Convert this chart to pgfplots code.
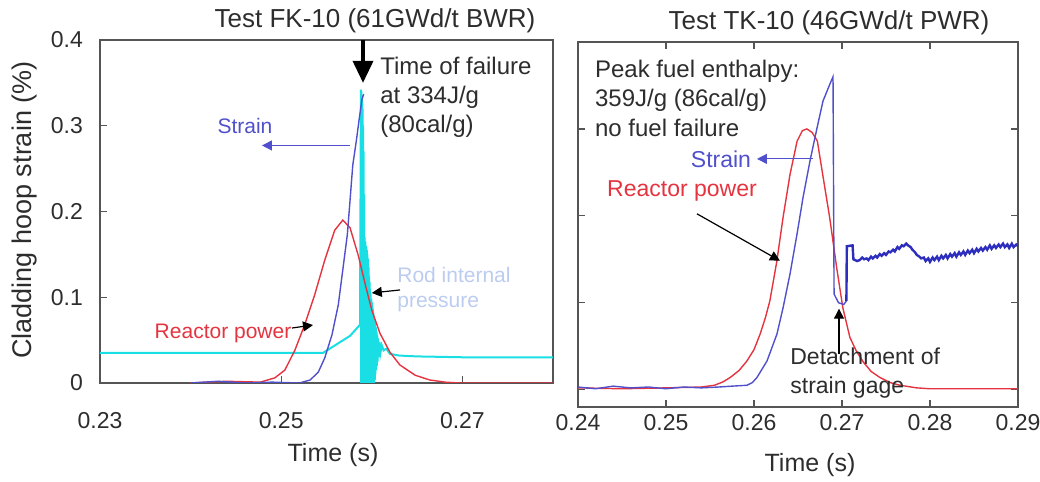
\documentclass[border=0pt]{standalone}
\usepackage{fontspec}
\setmainfont{Liberation Sans}
\usepackage{pgfplots}
\pgfplotsset{compat=1.18}
\usetikzlibrary{arrows.meta}

\definecolor{pwr}{RGB}{228,52,64}
\definecolor{strn}{RGB}{80,80,205}
\definecolor{strndark}{RGB}{45,45,190}
\definecolor{rodp}{RGB}{25,222,228}
\definecolor{palet}{RGB}{188,204,240}
\definecolor{txt}{RGB}{45,45,45}
\definecolor{frame}{RGB}{85,85,85}

\pgfplotsset{
  panel/.style={
    scale only axis,
    axis line style={frame, line width=0.6pt},
    tick style={frame, line width=0.6pt},
    major tick length=3.5pt,
    tick align=inside,
    ticklabel style={font=\fontsize{11.5}{12}\selectfont, text=txt},
    /pgf/number format/assume math mode=true,
  },
}
\tikzset{ann/.style={-{Triangle[length=5pt,width=5pt]}, line width=0.6pt}}

\begin{document}
\begin{tikzpicture}
\useasboundingbox (0,0) rectangle (520pt,241pt);

% left panel: FK-10
\begin{axis}[panel,
  at={(50pt,49.5pt)}, anchor=south west,
  width=226.5pt, height=171.5pt,
  xmin=0.23, xmax=0.28, ymin=0, ymax=0.4,
  xtick={0.23,0.25,0.27}, xticklabels={0.23,0.25,0.27},
  ytick={0,0.1,0.2,0.3,0.4}, yticklabels={0,0.1,0.2,0.3,0.4},
  xtick pos=bottom, ytick pos=left,
  xticklabel style={yshift=-11pt},
  yticklabel style={xshift=-5pt},
]
% rod internal pressure
\addplot[rodp, line width=1pt] coordinates {
 (0.2300,0.035) (0.2546,0.035) (0.2576,0.055) (0.2587,0.068)
 (0.25880,0.342) (0.25883,0.000) (0.25886,0.340) (0.25889,0.000)
 (0.25892,0.335) (0.25895,0.000) (0.25898,0.320) (0.25901,0.000)
 (0.25904,0.300) (0.25907,0.000) (0.25910,0.270) (0.25913,0.000)
 (0.25916,0.220) (0.25919,0.000) (0.25922,0.170) (0.25925,0.000)
 (0.25928,0.165) (0.25931,0.000) (0.25934,0.160) (0.25937,0.000)
 (0.25940,0.158) (0.25943,0.000) (0.25946,0.155) (0.25949,0.000)
 (0.25952,0.150) (0.25955,0.000) (0.25958,0.145) (0.25961,0.000)
 (0.25964,0.135) (0.25967,0.000) (0.25970,0.125) (0.25973,0.000)
 (0.25976,0.118) (0.25979,0.000) (0.25982,0.110) (0.25985,0.000)
 (0.25988,0.104) (0.25991,0.000) (0.25994,0.098) (0.25997,0.000)
 (0.26000,0.094) (0.26003,0.000) (0.26006,0.090) (0.26009,0.000)
 (0.26012,0.086) (0.26015,0.000) (0.26018,0.082) (0.26021,0.000)
 (0.26024,0.078) (0.26027,0.000) (0.26030,0.074) (0.26033,0.004)
 (0.26036,0.070) (0.26040,0.010) (0.26044,0.065) (0.26048,0.015)
 (0.26052,0.060) (0.26056,0.020) (0.26060,0.056) (0.26064,0.025)
 (0.26068,0.052) (0.26075,0.030) (0.26085,0.048) (0.26095,0.035)
 (0.26110,0.044) (0.26130,0.038) (0.26160,0.040) (0.26200,0.034)
 (0.26300,0.032) (0.26500,0.031) (0.27000,0.030) (0.28000,0.030)
};
% reactor power
\addplot[pwr, line width=0.7pt] coordinates {
 (0.2399,0.000) (0.2440,0.002) (0.2477,0.001) (0.2493,0.006)
 (0.2504,0.015) (0.2515,0.038) (0.2526,0.068) (0.2537,0.103)
 (0.2548,0.143) (0.2559,0.178) (0.2568,0.190) (0.2576,0.181)
 (0.2585,0.149) (0.2593,0.114) (0.2600,0.085) (0.2609,0.058)
 (0.2620,0.036) (0.2631,0.021) (0.2648,0.009) (0.2664,0.0035)
 (0.2681,0.001) (0.2697,0.000) (0.2800,0.000)
};
% strain
\addplot[strn, line width=0.7pt] coordinates {
 (0.2400,0.000) (0.2430,0.002) (0.2460,0.000) (0.2490,0.001)
 (0.2520,0.000) (0.2532,0.0035) (0.2541,0.0128) (0.2548,0.029)
 (0.2556,0.056) (0.2563,0.091) (0.2568,0.132) (0.2573,0.173)
 (0.2576,0.213) (0.2579,0.254) (0.2583,0.283) (0.2586,0.307)
 (0.2589,0.330) (0.2591,0.337)
};

\draw[-{Triangle[length=11pt,width=10pt]}, line width=1.8pt, black]
  (axis cs:0.25903,0.4) -- (axis cs:0.25903,0.350);
\node[anchor=west, align=left, inner sep=0pt, text=txt,
  font=\fontsize{12}{14.5}\selectfont]
  at (axis cs:0.2609,0.3335) {Time of failure\\at 334J/g\\(80cal/g)};

\node[text=strn, font=\fontsize{10.5}{12}\selectfont]
  at (axis cs:0.2460,0.2997) {Strain};
\draw[ann, strn] (axis cs:0.25759,0.277) -- (axis cs:0.24788,0.277);

\node[text=pwr, font=\fontsize{10.5}{12}\selectfont]
  at (axis cs:0.24358,0.0583) {Reactor power};
\draw[ann, black] (axis cs:0.25119,0.0641) -- (axis cs:0.25351,0.0676);

\node[anchor=west, align=left, inner sep=0pt, text=palet,
  font=\fontsize{10.5}{12.5}\selectfont]
  at (axis cs:0.26278,0.109) {Rod internal\\pressure};
\draw[ann, black] (axis cs:0.26311,0.1085) -- (axis cs:0.2600,0.105);
\end{axis}

% right panel: TK-10
\begin{axis}[panel,
  at={(289pt,37.5pt)}, anchor=south west,
  width=220pt, height=182.5pt,
  xmin=0.24, xmax=0.29, ymin=-0.02, ymax=0.4,
  xtick={0.24,0.25,0.26,0.27,0.28,0.29},
  xticklabels={0.24,0.25,0.26,0.27,0.28,0.29},
  ytick={0,0.1,0.2,0.3,0.4}, yticklabels={},
  xtick pos=both, ytick pos=both,
]
% reactor power
\addplot[pwr, line width=0.7pt] coordinates {
 (0.2400,0.002) (0.2450,0.001) (0.2500,0.002) (0.2540,0.003)
 (0.2555,0.005) (0.2565,0.009) (0.2573,0.014) (0.2583,0.022)
 (0.2592,0.033) (0.2600,0.046) (0.2607,0.064) (0.2613,0.083)
 (0.2618,0.102) (0.2626,0.148) (0.2633,0.198) (0.2641,0.248)
 (0.2649,0.286) (0.2655,0.298) (0.2660,0.300) (0.2666,0.296)
 (0.2672,0.286) (0.2678,0.248) (0.2686,0.198) (0.2694,0.140)
 (0.2701,0.094) (0.2709,0.060) (0.2716,0.045) (0.2724,0.032)
 (0.2733,0.021) (0.2743,0.014) (0.2755,0.008) (0.2766,0.005)
 (0.2785,0.002) (0.2800,0.001) (0.2900,0.001)
};
% strain up to detachment
\addplot[strn, line width=0.7pt] coordinates {
 (0.2400,0.003) (0.2420,0.001) (0.2440,0.004) (0.2460,0.002)
 (0.2480,0.003) (0.2500,0.001) (0.2520,0.003) (0.2540,0.002)
 (0.2560,0.003) (0.2575,0.004) (0.2592,0.005) (0.2598,0.008)
 (0.26034,0.014) (0.26148,0.033) (0.26261,0.064) (0.26330,0.094)
 (0.26409,0.133) (0.26489,0.179) (0.26557,0.221) (0.26636,0.263)
 (0.26716,0.301) (0.26784,0.332) (0.26864,0.352) (0.26898,0.360)
 (0.26910,0.110) (0.26960,0.100) (0.27020,0.098) (0.27050,0.102)
};
% strain after detachment
\addplot[strndark, line width=1.2pt] coordinates {
 (0.27050,0.102) (0.27055,0.165) (0.27120,0.166) (0.27130,0.150)
 (0.27170,0.148) (0.2720,0.149) (0.2723,0.152) (0.2725,0.150)
 (0.2728,0.151) (0.2730,0.149) (0.2733,0.153) (0.2735,0.151)
 (0.2738,0.154) (0.2740,0.152) (0.2743,0.156) (0.2745,0.154)
 (0.2748,0.157) (0.2750,0.155) (0.2753,0.159) (0.2755,0.158)
 (0.2758,0.161) (0.2760,0.159) (0.2763,0.164) (0.2765,0.162)
 (0.2768,0.166) (0.2770,0.165) (0.2773,0.168) (0.2775,0.166)
 (0.2778,0.164) (0.2780,0.161) (0.2783,0.158) (0.2785,0.155)
 (0.2788,0.153) (0.2790,0.151) (0.2793,0.152) (0.2795,0.148)
 (0.2798,0.151) (0.2800,0.147) (0.2803,0.152) (0.2805,0.149)
 (0.2808,0.153) (0.2810,0.149) (0.2813,0.154) (0.2815,0.151)
 (0.2818,0.155) (0.2820,0.151) (0.2823,0.156) (0.2825,0.153)
 (0.2828,0.157) (0.2830,0.153) (0.2833,0.158) (0.2835,0.155)
 (0.2838,0.159) (0.2840,0.155) (0.2843,0.160) (0.2845,0.157)
 (0.2848,0.161) (0.2850,0.157) (0.2853,0.162) (0.2855,0.159)
 (0.2858,0.163) (0.2860,0.160) (0.2863,0.164) (0.2865,0.161)
 (0.2868,0.166) (0.2870,0.162) (0.2873,0.166) (0.2875,0.163)
 (0.2878,0.167) (0.2880,0.164) (0.2883,0.168) (0.2885,0.164)
 (0.2888,0.167) (0.2890,0.163) (0.2893,0.168) (0.2895,0.164)
 (0.2898,0.167) (0.2900,0.165)
};

\node[anchor=west, align=left, inner sep=0pt, text=txt,
  font=\fontsize{12}{14.75}\selectfont]
  at (axis cs:0.2419,0.3356) {Peak fuel enthalpy:\\359J/g (86cal/g)\\no fuel failure};

\node[text=strn, font=\fontsize{11.5}{12}\selectfont]
  at (axis cs:0.25625,0.2655) {Strain};
\draw[ann, strn] (axis cs:0.26670,0.2655) -- (axis cs:0.26034,0.2655);

\node[text=pwr, font=\fontsize{11.5}{12}\selectfont]
  at (axis cs:0.25182,0.2287) {Reactor power};
\draw[ann, black] (axis cs:0.25352,0.2023) -- (axis cs:0.26295,0.1483);

\node[anchor=west, align=left, inner sep=0pt, text=txt,
  font=\fontsize{11.5}{14.5}\selectfont]
  at (axis cs:0.26409,0.019) {Detachment of\\strain gage};
\draw[ann, black] (axis cs:0.26966,0.0414) -- (axis cs:0.26966,0.0931);
\end{axis}

% titles and axis labels
\node[text=txt, font=\fontsize{13}{14}\selectfont] at (187.5pt,230.5pt) {Test FK-10 (61GWd/t BWR)};
\node[text=txt, font=\fontsize{13}{14}\selectfont] at (414.5pt,229.5pt) {Test TK-10 (46GWd/t PWR)};
\node[text=txt, font=\fontsize{12.5}{14}\selectfont] at (166.5pt,13.5pt) {Time (s)};
\node[text=txt, font=\fontsize{12.5}{14}\selectfont] at (405pt,8.5pt) {Time (s)};
\node[text=txt, rotate=90, font=\fontsize{13.5}{14}\selectfont] at (12.5pt,136pt) {Cladding hoop strain (\%)};
\end{tikzpicture}
\end{document}
